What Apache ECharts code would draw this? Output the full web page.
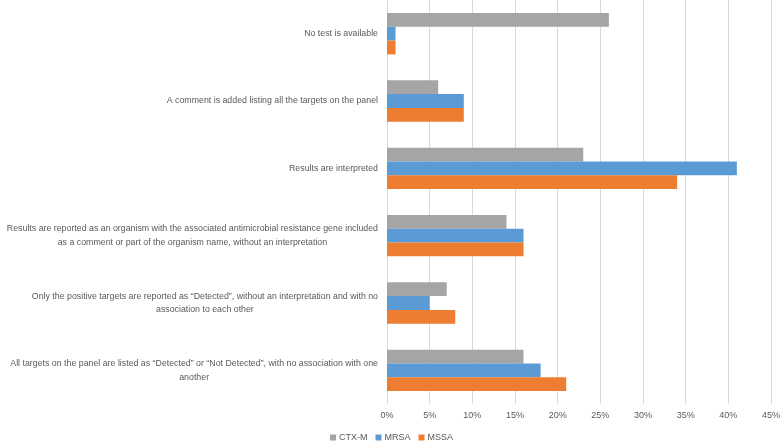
<!DOCTYPE html>
<html>
<head>
<meta charset="utf-8">
<script src="https://cdn.jsdelivr.net/npm/echarts@6/dist/echarts.min.js"></script>
<style>
html,body{margin:0;padding:0;background:#fff;}
#chart{width:783px;height:442px;}
</style>
</head>
<body>
<div id="chart"></div>
<script>
const categories = [
  "No test is available",
  "A comment is added listing all the targets on the panel",
  "Results are interpreted",
  "Results are reported as an organism with the associated antimicrobial resistance gene included\nas a comment or part of the organism name, without an interpretation",
  "Only the positive targets are reported as \u201cDetected\u201d, without an interpretation and with no\nassociation to each other",
  "All targets on the panel are listed as \u201cDetected\u201d or \u201cNot Detected\u201d, with no association with one\nanother"
];
const seriesNames = ["CTX-M", "MRSA", "MSSA"];
const ctxm = [26, 6, 23, 14, 7, 16];
const mrsa = [1, 9, 41, 16, 5, 18];
const mssa = [1, 9, 34, 16, 8, 21];
const xTicks = [0, 5, 10, 15, 20, 25, 30, 35, 40, 45];

const colors = ["#a5a5a5", "#5b9bd5", "#ed7d31"];
const FONT = "'Liberation Sans', sans-serif";

const chart = echarts.init(document.getElementById('chart'), null, {renderer: 'canvas'});
const values = [ctxm, mrsa, mssa];
chart.setOption({
  animation: false,
  color: colors,
  textStyle: {fontFamily: FONT},
  grid: {left: 387, right: 9, top: 0, height: 404, containLabel: false},
  legend: {
    top: 428,
    left: 'center',
    itemWidth: 6,
    itemHeight: 6,
    itemGap: 8,
    icon: 'rect',
    textStyle: {color: '#595959', fontSize: 9, fontFamily: FONT, padding: [0, 0, 0, -2]},
    data: seriesNames
  },
  xAxis: {
    type: 'value',
    min: xTicks[0],
    max: xTicks[xTicks.length - 1],
    interval: 5,
    axisLine: {show: false},
    axisTick: {show: false},
    axisLabel: {color: '#595959', fontSize: 9, margin: 7, fontFamily: FONT, formatter: v => v + '%'},
    splitLine: {show: true, lineStyle: {color: '#d9d9d9', width: 1}}
  },
  yAxis: {
    type: 'category',
    inverse: true,
    data: categories,
    axisLine: {show: false},
    axisTick: {show: false},
    axisLabel: {
      color: '#595959', fontSize: 8.8, margin: 9, align: 'right', lineHeight: 13.5, fontFamily: FONT,
      formatter: v => v.split('\n').map(s => '{c|' + s + '}').join('\n'),
      rich: {c: {align: 'center', color: '#595959', fontSize: 8.8, lineHeight: 13.5, fontFamily: FONT}}
    },
    splitLine: {show: false}
  },
  series: seriesNames.map((n, i) => ({
    name: n,
    type: 'bar',
    data: values[i],
    barWidth: 13.8,
    barGap: '0%',
    itemStyle: {color: colors[i]}
  }))
});
</script>
</body>
</html>
